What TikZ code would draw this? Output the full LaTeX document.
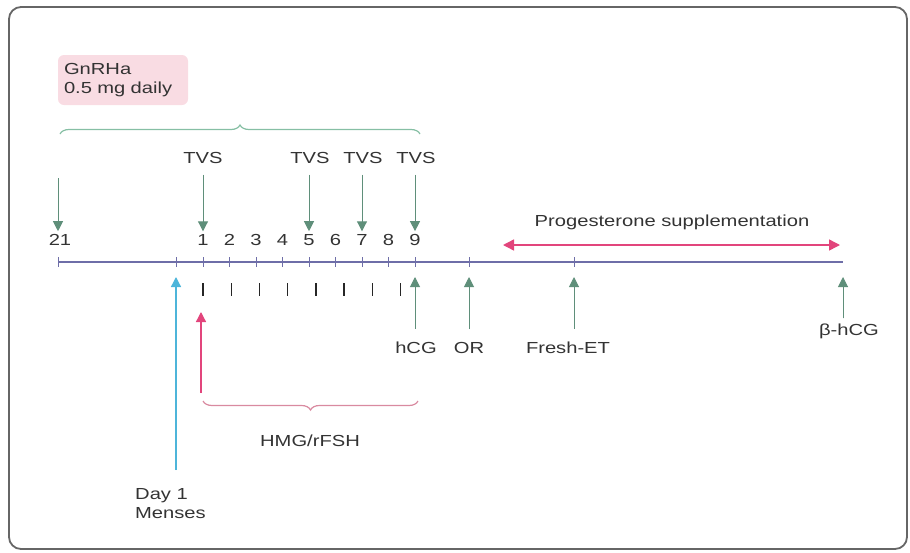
\documentclass[tikz,border=0pt]{standalone}
\usepackage{fontspec}
\setmainfont{Liberation Sans}[FakeStretch=1.26]
\usetikzlibrary{positioning,arrows.meta,decorations.pathreplacing}

\definecolor{axiscol}{HTML}{6E6EA8}
\definecolor{arrowgreen}{HTML}{5F8F7A}
\definecolor{bracegreen}{HTML}{86BFA4}
\definecolor{hotpink}{HTML}{E2457C}
\definecolor{bracepink}{HTML}{D98AA0}
\definecolor{skyblue}{HTML}{4DB5DA}
\definecolor{boxpink}{HTML}{F9DCE3}
\definecolor{textgray}{HTML}{333333}

\tikzset{
    lbl/.style={text=textgray, inner sep=1pt},
    tip/.style={-{Triangle[length=10pt,width=10pt]}},
    garrow/.style={tip, draw=arrowgreen, fill=arrowgreen, line width=1pt},
    axisline/.style={draw=axiscol, line width=1.3pt},
    tickmark/.style={draw=axiscol, line width=0.8pt},
    bracket/.style={line width=1.2pt, decorate, decoration={brace, amplitude=9pt}}
}

\begin{document}
\begin{tikzpicture}[x=1pt, y=-1pt, font=\fontsize{16}{19}\selectfont]
    \useasboundingbox (0,0) rectangle (910,552);
    \draw[gray!80!black, line width=1.8pt, rounded corners=12pt] (9,7) rectangle (907,549);

    % time axis
    \coordinate (start) at (58,262);
    \coordinate (stop) at (843,262);
    \draw[axisline] (start) -- (stop);

    \coordinate (menday) at (176,262);
    \coordinate (or) at (469,262);
    \coordinate (et) at (574,262);
    \foreach \x in {58,176,469,574}
        \draw[tickmark] (\x,257) -- (\x,267);
    \foreach \i in {1,...,9}{
        \coordinate (d\i) at ({203+(\i-1)*26.5},262);
        \draw[tickmark] ([yshift=5pt]d\i) -- ([yshift=-5pt]d\i);
        \node[lbl](n\i) at ({203+(\i-1)*26.5},240){\i};
    }
    \node[lbl](n21) at (60,240){21};

    % GnRHa
    \node[
        fill=boxpink,
        rounded corners=6pt,
        align=left,
        text=textgray,
        minimum width=130pt,
        minimum height=50pt,
        text width=118pt
    ](gnrha) at (123,80){GnRHa\\0.5 mg daily};

    \draw[bracegreen, bracket] (60,134) -- (420,134);

    % TVS
    \node[lbl](tvs1) at (203,158){TVS};
    \node[lbl](tvs5) at (310,158){TVS};
    \node[lbl](tvs7) at (363,158){TVS};
    \node[lbl](tvs9) at (416,158){TVS};
    \coordinate (c21) at (58,178);
    \draw[garrow] (c21) -- ([yshift=2pt]n21.north -| c21);
    \foreach \i in {1,5,7,9}
        \draw[garrow] ([yshift=-10pt]tvs\i.south -| d\i) -- ([yshift=2pt]n\i.north);

    % progesterone
    \node[lbl](prog) at (672,222){Progesterone supplementation};
    \draw[hotpink, line width=1.4pt,
        {Triangle[length=11pt,width=11pt]}-{Triangle[length=11pt,width=11pt]}]
        (503,245) -- (840,245);

    % stimulation days
    \foreach \i in {0,...,7}
        \draw[black!85, line width=1.4pt] ({203+\i*28.2},283) -- ({203+\i*28.2},296);

    % events below the axis
    \node[lbl](hcg) at (416,348){hCG};
    \node[lbl](orl) at (469,348){OR};
    \node[lbl](fresh) at (568,348){Fresh-ET};
    \node[lbl](bhcg) at (849,331){β-hCG};
    \draw[garrow] ([yshift=12pt]hcg.north -| d9) -- ([yshift=-15pt]d9);
    \draw[garrow] ([yshift=12pt]orl.north -| or) -- ([yshift=-15pt]or);
    \draw[garrow] ([yshift=12pt]fresh.north -| et) -- ([yshift=-15pt]et);
    \draw[garrow] ([yshift=4pt]bhcg.north -| stop) -- ([yshift=-15pt]stop);

    \node[lbl, align=left, anchor=north west](menses) at (134,487){Day 1\\Menses};
    \coordinate (menstart) at (176,470);
    \draw[skyblue, fill=skyblue, tip, line width=1.3pt] (menstart) -- ([yshift=-15pt]menday);

    \coordinate (hmgstart) at (201,393);
    \draw[hotpink, fill=hotpink, tip, line width=1.3pt] (hmgstart) -- (201,312);

    \draw[bracepink, bracket] (418,401) -- (203,401);
    \node[lbl](hmg) at (310,441){HMG/rFSH};
\end{tikzpicture}
\end{document}
